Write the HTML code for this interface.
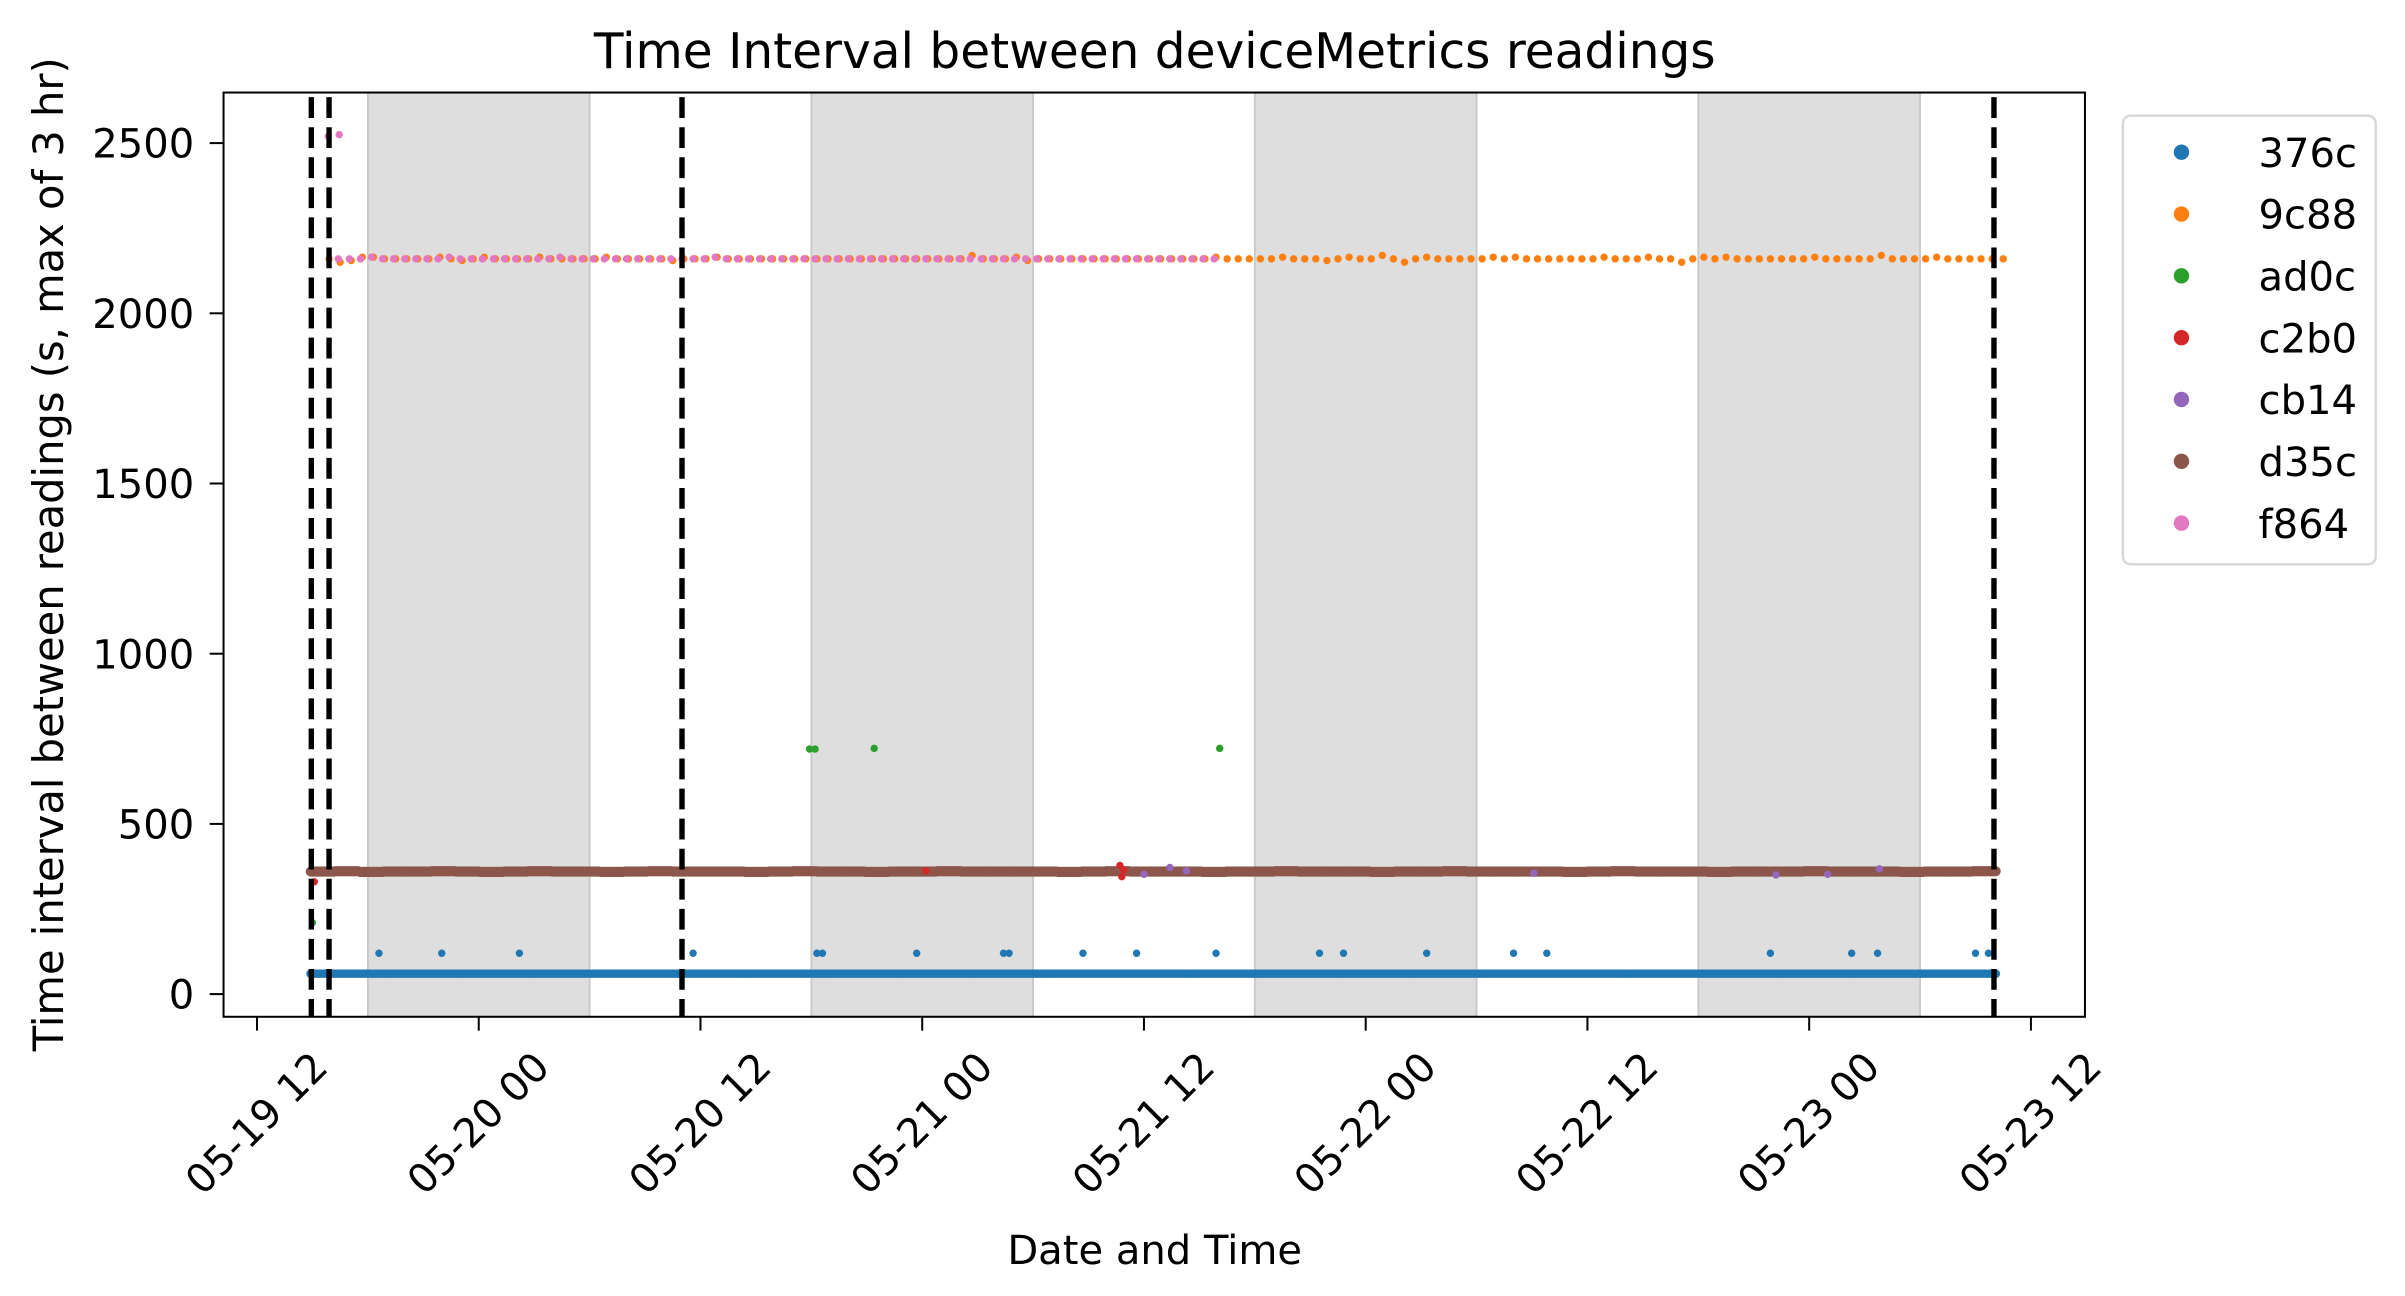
<!DOCTYPE html>
<html><head><meta charset="utf-8">
<style>
html,body{margin:0;padding:0;background:#fff;}
svg{display:block;font-family:"DejaVu Sans","Liberation Sans",sans-serif;}
</style></head>
<body>
<svg id="chart" width="2405" height="1296" viewBox="0 0 1560 840.6" xmlns="http://www.w3.org/2000/svg">
  <rect x="0" y="0" width="1560" height="841" fill="#fff"/>
  <g id="shade"></g>
  <g id="marks"></g>
  <g id="vlines"></g>
  <rect x="145" y="60" width="1207.4" height="599.5" fill="none" stroke="#000" stroke-width="1.3"/>
  <g id="axes"></g>
  <text x="749" y="44" font-size="31.5" text-anchor="middle">Time Interval between deviceMetrics readings</text>
  <text x="749" y="820" font-size="26" text-anchor="middle">Date and Time</text>
  <text x="0" y="0" font-size="27" text-anchor="middle" transform="translate(41,359.5) rotate(-90)">Time interval between readings (s, max of 3 hr)</text>
  <g id="legend">
    <rect x="1377" y="75" width="164" height="291" rx="5" fill="#fff" stroke="#d6d6d6" stroke-width="1.5"/>
  </g>
</svg>
<script>
// ---- data ----
const seriesNames = ["376c","9c88","ad0c","c2b0","cb14","d35c","f864"];
const seriesColors = ["#1f77b4","#ff7f0e","#2ca02c","#d62728","#9467bd","#8c564b","#e377c2"];
const xTickLabels = ["05-19 12","05-20 00","05-20 12","05-21 00","05-21 12","05-22 00","05-22 12","05-23 00","05-23 12"];
const xTickHours = [0,12,24,36,48,60,72,84,96];
const yTickValues = [0,500,1000,1500,2000,2500];
const nightStartHours = [6,30,54,78];
const nightEndHours = [18,42,66,90];
const eventLineHours = [2.94,3.9,23.0,94.0];
// 376c
const blueStart = 2.9, blueEnd = 94.1;
const blueBase = [60,60,60,60,60,60,60,60,60,60,60,60,60,60,60,60,60,60,60,60,60,60,60];
const blueOutlierHours = [6.6,10.0,14.2,23.6,30.3,30.6,35.7,40.4,40.7,44.7,47.6,51.9,57.5,58.8,63.3,68.0,69.8,81.9,86.3,87.7,93.0,93.7];
const blueOutlierValues = [120,120,120,120,120,120,120,120,120,120,120,120,120,120,120,120,120,120,120,120,120,120];
// 9c88
const orangeStart = 3.9, orangeStep = 0.6;
const orangeValues = [2160,2150,2155,2165,2165,2160,2160,2160,2160,2160,2165,2160,2155,2160,2165,2160,2160,2160,2160,2165,2160,2160,2160,2160,2160,2165,2160,2160,2160,2160,
2160,2155,2160,2160,2160,2165,2160,2160,2160,2160,2160,2160,2160,2160,2160,2160,2160,2160,2160,2160,2160,2160,2160,2160,2160,2160,2160,2160,2170,2160,
2160,2160,2165,2155,2160,2160,2160,2160,2160,2160,2160,2160,2160,2160,2160,2160,2160,2160,2160,2160,2165,2160,2160,2160,2160,2160,2165,2160,2160,2160,
2155,2160,2165,2160,2160,2170,2160,2150,2160,2165,2160,2160,2160,2160,2160,2165,2160,2165,2160,2160,2160,2160,2160,2160,2160,2165,2160,2160,2160,2165,
2160,2160,2150,2160,2165,2160,2165,2160,2160,2160,2160,2160,2160,2160,2165,2160,2160,2160,2160,2160,2170,2160,2160,2160,2160,2165,2160,2160,2160,2160,2160,2160];
// f864
const pinkStart = 4.4, pinkStep = 0.6;
const pinkValues = [2160,2160,2160,2165,2160,2160,2160,2160,2160,2160,2165,2160,2160,2160,2160,2160,2160,2160,2160,2160,2165,2160,2160,2160,2160,2160,2160,2160,2160,2160,
2160,2160,2160,2160,2165,2160,2160,2160,2160,2160,2160,2160,2160,2160,2160,2160,2160,2160,2160,2160,2160,2160,2160,2160,2160,2160,2160,2160,2160,2160,
2160,2160,2160,2160,2160,2160,2160,2160,2160,2160,2160,2160,2160,2160,2160,2160,2160,2160,2160,2160];
const pinkHighHours = [3.86,4.45];
const pinkHighValues = [2520,2525];
// d35c
const brownStart = 2.9, brownEnd = 94.1;
const brownValues = [360,361,359,360,360,361,360,359,360,361,360,360,359,360,361,360,360,360,359,360,361,360,360,359,360,360,361,360,360,360,
360,359,360,361,360,360,360,359,360,360,361,360,360,360,359,360,360,361,360,360,360,360,359,360,361,360,360,360,359,360,360,360,361,360,360,360,359,360,360,361];
// ad0c
const greenHours = [3.0,29.9,30.2,33.4,52.1];
const greenValues = [210,720,720,722,722];
// c2b0
const redHours = [3.1,46.7,46.8,46.9,36.2];
const redValues = [330,378,345,365,362];
// cb14
const purpleHours = [49.4,48.0,69.1,82.2,87.8,85.0,50.3];
const purpleValues = [372,352,355,350,368,352,362];

// ---- axis functions ----
const X0 = 166.7, PX_PER_H = 11.986;
const Y0 = 644.8, PX_PER_V = 0.2208;
const xOf = h => X0 + h * PX_PER_H;
const yOf = v => Y0 - v * PX_PER_V;
const NS = "http://www.w3.org/2000/svg";
function mk(tag, parent, attrs) {
  const e = document.createElementNS(NS, tag);
  for (const k in attrs) e.setAttribute(k, attrs[k]);
  parent.appendChild(e);
  return e;
}
const shade = document.getElementById('shade');
const marks = document.getElementById('marks');
const vlines = document.getElementById('vlines');
const axes = document.getElementById('axes');
const legend = document.getElementById('legend');
const DOT_R = 2.4;

nightStartHours.forEach((h, i) => {
  const r = mk('rect', shade, {x: xOf(h), y: 60, width: xOf(nightEndHours[i]) - xOf(h), height: 599.5, fill: '#dedede', stroke: '#c8c8c8', 'stroke-width': 1.2});
  
  
});

function dot(h, v, color, r, name) {
  const c = mk('circle', marks, {cx: xOf(h), cy: yOf(v), r: r, fill: color});
  
  
}

{
  const step = (blueEnd - blueStart) / blueBase.length;
  blueBase.forEach((v, i) => {
    const x1 = xOf(blueStart + i * step), x2 = xOf(blueStart + (i + 1) * step);
    const r = mk('rect', marks, {x: x1, y: yOf(v) - 2.7, width: x2 - x1 + 0.5, height: 5.4, fill: seriesColors[0]});
    
    
  });
  dot(blueStart, blueBase[0], seriesColors[0], 2.8, 'series-376c-point');
  dot(blueEnd, blueBase[blueBase.length - 1], seriesColors[0], 2.8, 'series-376c-point');
  blueOutlierHours.forEach((h, i) => dot(h, blueOutlierValues[i], seriesColors[0], DOT_R, 'series-376c-point'));
}
{
  const step = (brownEnd - brownStart) / brownValues.length;
  brownValues.forEach((v, i) => {
    const x1 = xOf(brownStart + i * step), x2 = xOf(brownStart + (i + 1) * step);
    const r = mk('rect', marks, {x: x1, y: yOf(v) - 3.3, width: x2 - x1 + 0.5, height: 6.6, fill: seriesColors[5]});
    
    
  });
  dot(brownStart, brownValues[0], seriesColors[5], 3.2, 'series-d35c-point');
  dot(brownEnd, brownValues[brownValues.length - 1], seriesColors[5], 3.2, 'series-d35c-point');
}
greenHours.forEach((h, i) => dot(h, greenValues[i], seriesColors[2], DOT_R, 'series-ad0c-point'));
redHours.forEach((h, i) => dot(h, redValues[i], seriesColors[3], DOT_R, 'series-c2b0-point'));
purpleHours.forEach((h, i) => dot(h, purpleValues[i], seriesColors[4], DOT_R, 'series-cb14-point'));
orangeValues.forEach((v, i) => dot(orangeStart + i * orangeStep, v, seriesColors[1], DOT_R, 'series-9c88-point'));
pinkValues.forEach((v, i) => dot(pinkStart + i * pinkStep, v, seriesColors[6], DOT_R, 'series-f864-point'));
pinkHighHours.forEach((h, i) => dot(h, pinkHighValues[i], seriesColors[6], DOT_R, 'series-f864-point'));

eventLineHours.forEach(h => {
  const l = mk('line', vlines, {x1: xOf(h), x2: xOf(h), y1: 63, y2: 659, stroke: '#000', 'stroke-width': 3.5, 'stroke-dasharray': '13.5,6'});
  
  
});

yTickValues.forEach(v => {
  const y = yOf(v);
  const t = mk('line', axes, {x1: 136, x2: 145, y1: y, y2: y, stroke: '#000', 'stroke-width': 1.3});
  
  
  const tx = mk('text', axes, {x: 126, y: y + 9.5, 'font-size': 26, 'text-anchor': 'end'});
  tx.textContent = v;
  
  
});
xTickHours.forEach((h, i) => {
  const x = xOf(h);
  const t = mk('line', axes, {x1: x, x2: x, y1: 659.5, y2: 668.5, stroke: '#000', 'stroke-width': 1.3});
  
  
  const tx = mk('text', axes, {x: 0, y: 0, 'font-size': 26, 'text-anchor': 'middle', 'dominant-baseline': 'central', transform: `translate(${x},${729}) rotate(-45)`});
  tx.textContent = xTickLabels[i];
  
  
});
seriesNames.forEach((n, i) => {
  const y = 98.7 + i * 40.1;
  const c = mk('circle', legend, {cx: 1415, cy: y, r: 5, fill: seriesColors[i]});
  
  
  const t = mk('text', legend, {x: 1465, y: y + 9.5, 'font-size': 26});
  t.textContent = n;
  
  
});
</script>
</body></html>
